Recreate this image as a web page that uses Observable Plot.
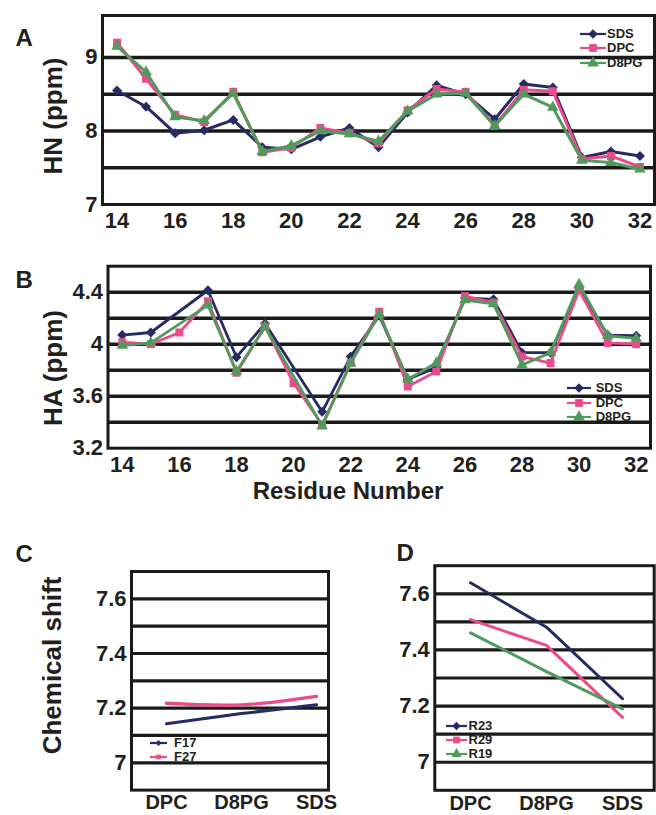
<!DOCTYPE html>
<html><head><meta charset="utf-8">
<script src="https://cdn.jsdelivr.net/npm/d3@7"></script>
<script src="https://cdn.jsdelivr.net/npm/@observablehq/plot@0.6"></script>
<style>
body{margin:0;background:#fff}
#root{position:relative;width:656px;height:815px;overflow:hidden;font-family:"Liberation Sans",Arial,sans-serif;font-weight:bold;color:#231f20;background:#fff}
.lg{position:absolute;display:flex;align-items:center;height:14px;font-size:13px;line-height:14px;white-space:nowrap}
.lg svg{display:block}
</style></head><body><div id="root"></div>
<script>
// ---------- data ----------
const residues = [14,15,16,17,18,19,20,21,22,23,24,25,26,27,28,29,30,31,32];
const xTicks = [14,16,18,20,22,24,26,28,30,32];

const hnSDS  = [8.55,8.33,7.97,8.01,8.15,7.78,7.75,7.92,8.04,7.78,8.25,8.62,8.50,8.16,8.64,8.59,7.64,7.72,7.66];
const hnDPC  = [9.20,8.71,8.22,8.12,8.53,7.71,7.77,8.04,7.97,7.83,8.28,8.57,8.53,8.07,8.56,8.54,7.62,7.66,7.51];
const hnD8PG = [9.15,8.80,8.19,8.14,8.51,7.72,7.80,8.00,7.96,7.86,8.27,8.50,8.51,8.07,8.50,8.32,7.60,7.57,7.48];
const hnGrid = [7.5,8,8.5,9];
const hnTicks = [7,8,9];

const haSDS  = [4.07,4.09,null,4.415,3.90,4.16,null,3.48,3.905,4.22,3.73,3.82,4.357,4.345,3.935,3.935,4.43,4.07,4.065];
const haDPC  = [4.015,4.00,4.09,4.33,3.78,4.135,3.70,3.38,3.855,4.25,3.675,3.79,4.37,4.32,3.905,3.855,4.415,4.01,4.00];
const haD8PG = [3.99,4.01,null,4.30,3.79,4.135,null,3.37,3.855,4.23,3.73,3.855,4.34,4.31,3.84,3.935,4.46,4.065,4.045];
const haGrid = [3.4,3.6,3.8,4.0,4.2,4.4];
const haTicks = [3.2,3.6,4,4.4];

const solvents = ["DPC","D8PG","SDS"];
const F17 = [7.143,7.18,7.212];
const F27 = [7.218,7.212,7.243];
const R23 = [7.639,7.481,7.226];
const R29 = [7.508,7.416,7.160];
const R19 = [7.461,7.323,7.190];
const csGrid = [7.0,7.1,7.2,7.3,7.4,7.5,7.6];
const csTicks = [7,7.2,7.4,7.6];

// ---------- style ----------
const C_NAVY = "#272b63", C_PINK = "#ec4b8b", C_GREEN = "#4f9a5c";
const INK = "#231f20", GRID = "#1a1a1a";
const FONT = '"Liberation Sans", Arial, sans-serif';
const root = document.getElementById("root");
const baseStyle = {fontFamily: FONT, fontWeight: "bold", color: INK, background: "transparent", overflow: "visible"};
const fmt = d => String(d);

function place(el, left, top){ el.style.position="absolute"; el.style.left=left+"px"; el.style.top=top+"px"; root.appendChild(el); }

function residueSeries(vals, name){ return residues.map((r,i)=>({r, v: vals[i], s: name})).filter(d=>d.v!=null); }
function seriesMarks(specs, lw){
  return specs.flatMap(([vals,name,color,sym]) => {
    const d = residueSeries(vals, name);
    return [
      Plot.line(d, {x:"r", y:"v", stroke: color, strokeWidth: lw}),
      Plot.dot(d, {x:"r", y:"v", fill: color, stroke: "none", symbol: sym, r: sym==="triangle"?4.3:4.5})
    ];
  });
}
const specsHN = [[hnSDS,"SDS",C_NAVY,"diamond2"],[hnDPC,"DPC",C_PINK,"square"],[hnD8PG,"D8PG",C_GREEN,"triangle"]];
const specsHA = [[haSDS,"SDS",C_NAVY,"diamond2"],[haDPC,"DPC",C_PINK,"square"],[haD8PG,"D8PG",C_GREEN,"triangle"]];
const title = (txt, o) => Plot.text([txt], {fontWeight: "bold", fill: INK, ...o});

// ---------- Panel A ----------
const plotA = Plot.plot({
  width: 656, height: 240, marginLeft: 102, marginRight: 2, marginTop: 15, marginBottom: 36,
  style: baseStyle,
  x: {domain: [13.5, 32.5]}, y: {domain: [7, 9.57]},
  marks: [
    Plot.ruleY(hnGrid, {stroke: GRID, strokeWidth: 3.5}),
    ...seriesMarks(specsHN, 3),
    Plot.frame({stroke: GRID, strokeWidth: 3}),
    Plot.axisX({ticks: xTicks, tickSize: 0, tickPadding: 8, fontSize: 22, label: null}),
    Plot.axisY({ticks: hnTicks, tickSize: 0, tickPadding: 5, fontSize: 22, label: null, tickFormat: fmt}),
    title("HN (ppm)", {frameAnchor: "left", textAnchor: "middle", dx: -49, dy: 6, rotate: -90, fontSize: 26}),
    title("A", {frameAnchor: "top-left", textAnchor: "start", dx: -87, dy: 13.5, fontSize: 24})
  ]
});
place(plotA, 0, 0);

// ---------- Panel B ----------
const plotB = Plot.plot({
  width: 656, height: 280, marginLeft: 107.5, marginRight: 6, marginTop: 25.7, marginBottom: 72.3,
  style: baseStyle,
  x: {domain: [13.5, 32.5]}, y: {domain: [3.2, 4.6]},
  marks: [
    Plot.ruleY(haGrid, {stroke: GRID, strokeWidth: 3.5}),
    ...seriesMarks(specsHA, 2.8),
    Plot.frame({stroke: GRID, strokeWidth: 3}),
    Plot.axisX({ticks: xTicks, tickSize: 0, tickPadding: 8, fontSize: 22, label: null}),
    Plot.axisY({ticks: haTicks, tickSize: 0, tickPadding: 5, fontSize: 22, label: null, tickFormat: fmt}),
    title("HA (ppm)", {frameAnchor: "left", textAnchor: "middle", dx: -54.5, dy: 10.8, rotate: -90, fontSize: 26}),
    title("B", {frameAnchor: "top-left", textAnchor: "start", dx: -92.5, dy: 4.8, fontSize: 24}),
    title("Residue Number", {frameAnchor: "bottom", textAnchor: "middle", dx: -31.25, dy: 50.8, fontSize: 24})
  ]
});
place(plotB, 0, 240);

// ---------- Panel C ----------
const solventSeries = (vals, name) => solvents.map((s,i)=>({s, v: vals[i], n: name}));
const plotC = Plot.plot({
  width: 340, height: 295, marginLeft: 131, marginRight: 12, marginTop: 51, marginBottom: 25.4,
  style: baseStyle,
  x: {type: "point", domain: solvents, range: [166, 316], padding: 0},
  y: {domain: [6.9, 7.7]},
  marks: [
    Plot.ruleY(csGrid, {stroke: GRID, strokeWidth: 3.2}),
    Plot.line(solventSeries(F17,"F17"), {x:"s", y:"v", stroke: C_NAVY, strokeWidth: 3, curve: "natural"}),
    Plot.line(solventSeries(F27,"F27"), {x:"s", y:"v", stroke: C_PINK, strokeWidth: 3.4, curve: "natural"}),
    Plot.frame({stroke: GRID, strokeWidth: 3}),
    Plot.axisX({tickSize: 0, tickPadding: 5, fontSize: 20, label: null}),
    Plot.axisY({ticks: csTicks, tickSize: 0, tickPadding: 5, fontSize: 22, label: null, tickFormat: fmt}),
    title("Chemical shift", {frameAnchor: "left", textAnchor: "middle", dx: -78.5, dy: -15.3, rotate: -90, fontSize: 26}),
    title("C", {frameAnchor: "top-left", textAnchor: "start", dx: -116, dy: -26.5, fontSize: 24})
  ]
});
place(plotC, 0, 520);

// ---------- Panel D ----------
const plotD = Plot.plot({
  width: 316, height: 295, marginLeft: 94.3, marginRight: 2.3, marginTop: 45.2, marginBottom: 25.2,
  style: baseStyle,
  x: {type: "point", domain: solvents, range: [129.3, 281.7], padding: 0},
  y: {domain: [6.9, 7.7]},
  marks: [
    Plot.ruleY(csGrid, {stroke: GRID, strokeWidth: 3.2}),
    Plot.line(solventSeries(R23,"R23"), {x:"s", y:"v", stroke: C_NAVY, strokeWidth: 3}),
    Plot.line(solventSeries(R29,"R29"), {x:"s", y:"v", stroke: C_PINK, strokeWidth: 3}),
    Plot.line(solventSeries(R19,"R19"), {x:"s", y:"v", stroke: C_GREEN, strokeWidth: 3}),
    Plot.frame({stroke: GRID, strokeWidth: 3}),
    Plot.axisX({tickSize: 0, tickPadding: 5, fontSize: 20, label: null}),
    Plot.axisY({ticks: csTicks, tickSize: 0, tickPadding: 5, fontSize: 22, label: null, tickFormat: fmt}),
    title("D", {frameAnchor: "top-left", textAnchor: "start", dx: -38.3, dy: -21.7, fontSize: 24})
  ]
});
place(plotD, 340, 520);

// ---------- legends ----------
const symMap = {diamond2: d3.symbolDiamond2, square: d3.symbolSquare, triangle: d3.symbolTriangle};
function legend(items, left, centers, sw, gap, msize, lw){
  items.forEach(([label,color,sym],i)=>{
    const row = document.createElement("div");
    row.className = "lg";
    row.style.left = left+"px"; row.style.top = (centers[i]-7)+"px";
    const s = d3.create("svg").attr("width", sw).attr("height", 14);
    s.append("line").attr("x1",0).attr("x2",sw).attr("y1",7).attr("y2",7).attr("stroke",color).attr("stroke-width",lw);
    s.append("path").attr("transform",`translate(${sw/2},7)`).attr("d", d3.symbol(symMap[sym], msize)()).attr("fill",color);
    row.appendChild(s.node());
    const t = document.createElement("span"); t.textContent = label; t.style.marginLeft = gap+"px";
    row.appendChild(t);
    root.appendChild(row);
  });
}
const legendHN = [["SDS",C_NAVY,"diamond2"],["DPC",C_PINK,"square"],["D8PG",C_GREEN,"triangle"]];
legend(legendHN, 580, [34.3,48.3,62.8], 26, 1, 60, 2.2);
legend(legendHN, 566.7, [388.3,403.3,417.3], 24, 5, 60, 2.2);
legend([["F17",C_NAVY,"diamond2"],["F27",C_PINK,"square"]], 150, [743.3,756.7], 17, 7, 22, 2.2);
legend([["R23",C_NAVY,"diamond2"],["R29",C_PINK,"square"],["R19",C_GREEN,"triangle"]], 446, [725.7,740,754], 21, 1.5, 45, 2.2);
</script></body></html>
